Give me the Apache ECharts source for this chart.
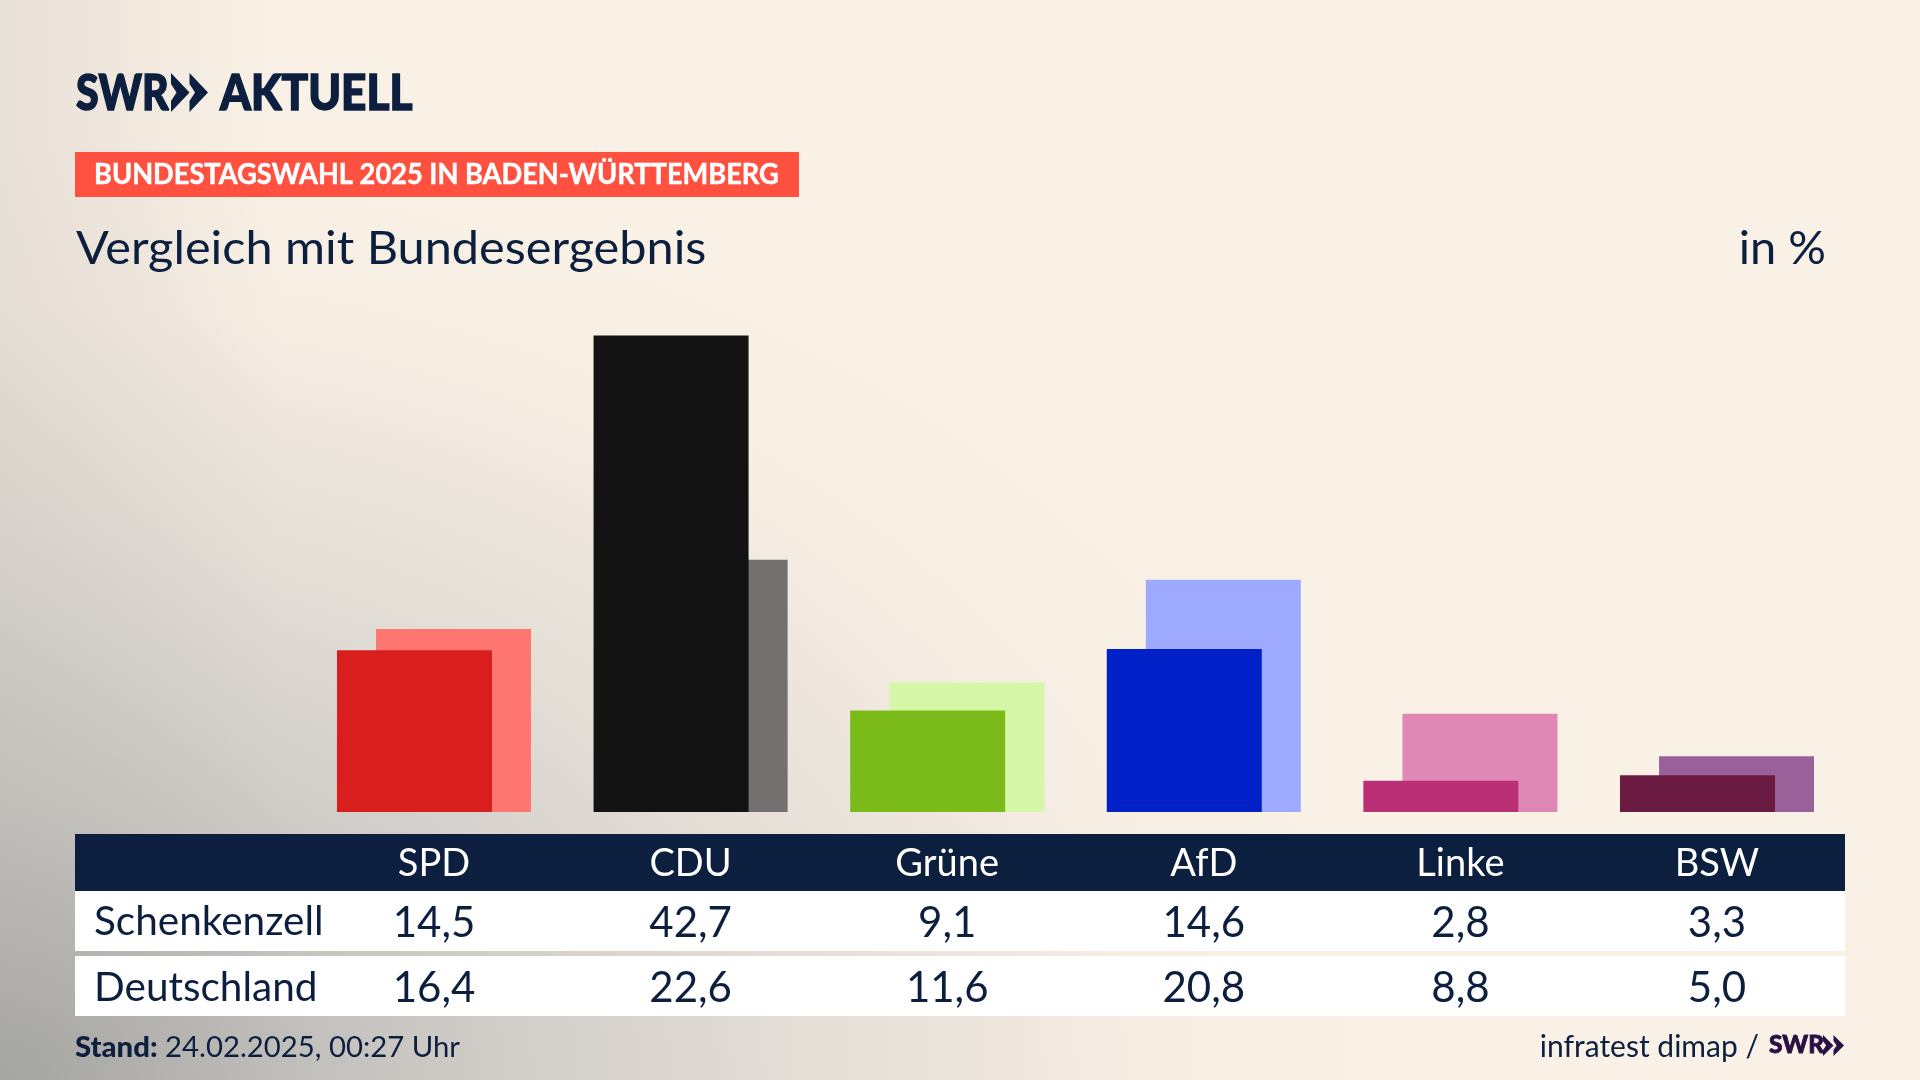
<!DOCTYPE html>
<html>
<head>
<meta charset="utf-8">
<title>Vergleich mit Bundesergebnis</title>
<script src="https://cdn.jsdelivr.net/npm/echarts@6/dist/echarts.min.js"></script>
<style>
  html, body { margin: 0; height: 100%; overflow: hidden; }
  body {
    background:
      linear-gradient(90deg, rgba(150,150,145,.18), rgba(150,150,145,0) 280px),
      radial-gradient(ellipse 1400px 950px at 0 100%, #a8a8a6 0%, #cbc8c4 30%, #e4ded7 58%, #f6ede3 82%, #faf1e6 100%),
      #faf1e6;
  }
  #main { width: 1920px; height: 1080px; }
</style>
</head>
<body>
<div id="main"></div>
<script>
const parties = ['SPD', 'CDU', 'Grüne', 'AfD', 'Linke', 'BSW'];
const schenkenzell = [14.5, 42.7, 9.1, 14.6, 2.8, 3.3];
const deutschland = [16.4, 22.6, 11.6, 20.8, 8.8, 5.0];
const darkColors = ['#d81f1e', '#131313', '#7abb1a', '#0020c8', '#bb2f75', '#6b1a42'];
const lightColors = ['#ff7670', '#73716f', '#d6f6a8', '#9eaaff', '#df88b6', '#9a6099'];

const navy = '#0c1f3f';
const font = 'Lato';

const fmt = v => v.toFixed(1).replace('.', ',');

// header and the two rows are category axes stacked under the bars
function tableAxis(labels, offset, color, size) {
  return {
    type: 'category',
    data: labels,
    position: 'bottom',
    offset: offset,
    axisLine: { show: false },
    axisTick: { show: false },
    axisLabel: {
      interval: 0,
      margin: 0,
      color: color,
      fontFamily: font,
      fontSize: size,
      verticalAlign: 'middle'
    }
  };
}

function box(x, y, w, h, fill) {
  return { type: 'rect', z: -1, shape: { x: x, y: y, width: w, height: h }, style: { fill: fill } };
}

function label(x, y, text, size, opts, scaleX) {
  return {
    type: 'text',
    x: x,
    y: y,
    z: 5,
    scaleX: scaleX || 1,
    style: Object.assign({
      text: text,
      fontFamily: font,
      fontSize: size,
      fill: navy,
      verticalAlign: 'middle'
    }, opts || {})
  };
}

function chevrons(x, y, w, h, fill) {
  // the two arrows of the SWR logo
  const one = dx => ({
    type: 'polygon',
    z: 5,
    shape: { points: [
      [x + dx, y], [x + dx + w / 2, y + h / 2], [x + dx, y + h],
      [x + dx, y + h * 0.72], [x + dx + w * 0.15, y + h / 2], [x + dx, y + h * 0.28]
    ] },
    style: { fill: fill }
  });
  return [one(0), one(w / 2)];
}

const chart = echarts.init(document.getElementById('main'), null, { renderer: 'canvas' });

chart.setOption({
  backgroundColor: 'transparent',
  animation: false,
  grid: { left: 305.7, right: 74.7, top: 309.8, bottom: 268 },
  xAxis: [
    {
      type: 'category',
      data: parties,
      position: 'bottom',
      axisLine: { show: false },
      axisTick: { show: false },
      axisLabel: { show: false }
    },
    tableAxis(parties, 52, '#ffffff', 38),
    tableAxis(schenkenzell.map(fmt), 111.5, navy, 42),
    tableAxis(deutschland.map(fmt), 176.5, navy, 42)
  ],
  yAxis: { type: 'value', min: 0, max: 45, show: false, splitLine: { show: false } },
  series: [
    {
      name: 'Schenkenzell',
      type: 'bar',
      z: 3,
      barWidth: 155,
      barGap: '-74.8%',
      data: schenkenzell.map((v, i) => ({ value: v, itemStyle: { color: darkColors[i] } }))
    },
    {
      name: 'Deutschland',
      type: 'bar',
      z: 2,
      barWidth: 155,
      barGap: '-74.8%',
      data: deutschland.map((v, i) => ({ value: v, itemStyle: { color: lightColors[i] } }))
    }
  ],
  graphic: [
    // table backgrounds
    box(75, 834, 1770, 57, navy),
    box(75, 891, 1770, 60, '#ffffff'),
    box(75, 956, 1770, 60, '#ffffff'),
    box(75, 152, 724, 45, '#ff5040'),

    // logo
    label(76, 94, 'SWR', 49, { fontWeight: 900, stroke: navy, lineWidth: 1.5 }, 0.84),
    ...chevrons(171, 73, 37, 39, navy),
    label(220, 94, 'AKTUELL', 49, { fontWeight: 900, stroke: navy, lineWidth: 1.5 }, 0.9),

    label(94, 175, 'BUNDESTAGSWAHL 2025 IN BADEN-WÜRTTEMBERG', 28, { fontWeight: 'bold', fill: '#ffffff', stroke: '#ffffff', lineWidth: 0.5 }, 0.972),
    label(76, 249, 'Vergleich mit Bundesergebnis', 47, null, 1.035),
    label(1826, 249, 'in %', 47, { align: 'right' }),

    label(94, 921.5, 'Schenkenzell', 40.5),
    label(94, 987.5, 'Deutschland', 40.5),

    label(75, 1048, '{b|Stand:} 24.02.2025, 00:27 Uhr', 29.3, {
      rich: { b: { fontWeight: 900, fontFamily: font, fontSize: 29.3, fill: navy } }
    }),
    label(1759, 1047, 'infratest dimap /', 30, { align: 'right' }),
    label(1769, 1045, 'SWR', 24.5, { fontWeight: 900, fill: '#2a0f45', stroke: '#2a0f45', lineWidth: 0.8 }),
    ...chevrons(1823, 1035, 21, 21, '#2a0f45')
  ]
});
</script>
</body>
</html>
